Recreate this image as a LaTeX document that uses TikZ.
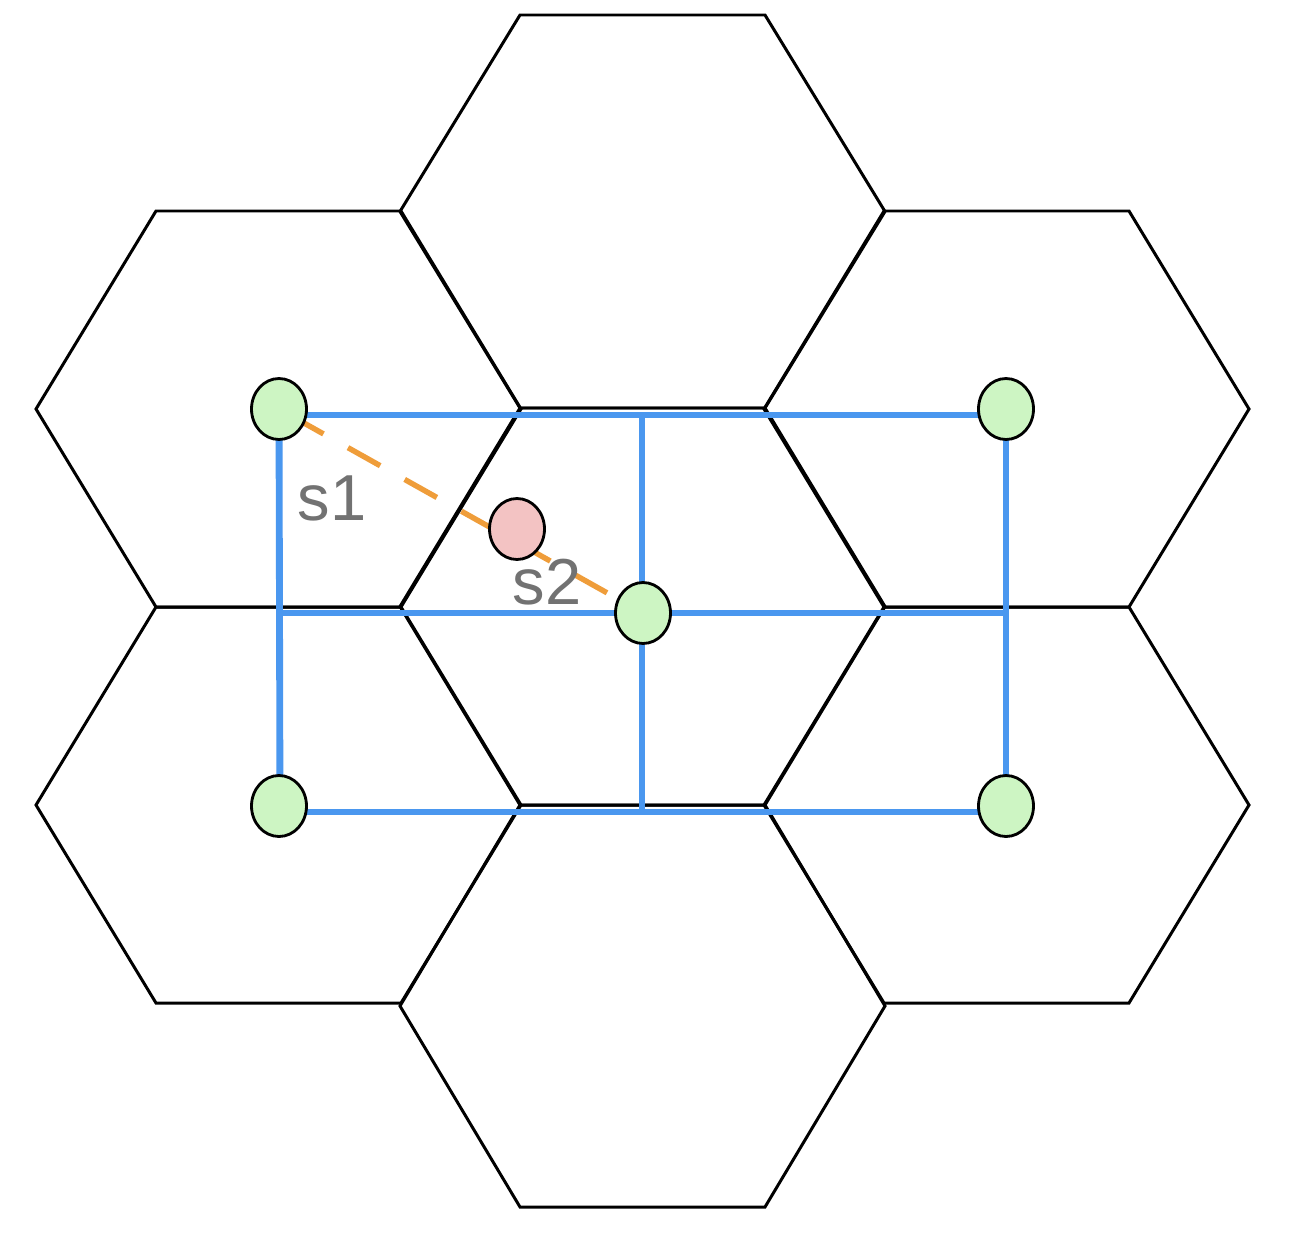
\documentclass[tikz,border=0pt]{standalone}
\usepackage{fontspec}
\setmainfont{Liberation Sans}
\usetikzlibrary{shapes.geometric}
\definecolor{hexblue}{HTML}{4A97EF}
\definecolor{dotgreen}{HTML}{CDF5C3}
\definecolor{dotpink}{HTML}{F3C3C3}
\definecolor{dashorange}{HTML}{EF9D3A}
\definecolor{labelgray}{HTML}{727272}
\pgfdeclarelayer{hexes}
\pgfdeclarelayer{lines}
\pgfsetlayers{hexes,lines,main}
\tikzset{
  hexline/.style={draw=black, line width=1.7pt, line join=miter},
  pics/hexa/.style={code={
    \draw[hexline] (-242.5,0) -- (-122.5,-#1) -- (122.5,-#1) -- (242.5,0)
      -- (122.5,#1) -- (-122.5,#1) -- cycle;}},
  blueline/.style={draw=hexblue, line width=3.9pt},
  dashline/.style={draw=dashorange, line width=3.1pt,
    dash pattern=on 21pt off 16pt, dash phase=29pt},
  dot/.style={ellipse, draw=black, line width=1.6pt, inner sep=0pt,
    minimum width=1.1cm, minimum height=1.22cm},
  gdot/.style={dot, fill=dotgreen},
  pdot/.style={dot, fill=dotpink},
  lab/.style={text=labelgray, inner sep=0pt, font=\fontsize{37}{40}\selectfont}
}
\begin{document}
\begin{tikzpicture}[x=0.02cm, y=-0.02cm]
\useasboundingbox (0,0) rectangle (1298,1254);
\begin{pgfonlayer}{hexes}
  \pic at (642.5,211.5) {hexa=196.5};
  \pic at (642.5,606.5) {hexa=198.5};
  \pic at (642.5,1006) {hexa=201};
  \pic at (278.5,409) {hexa=198};
  \pic at (1006.5,409) {hexa=198};
  \pic at (278.5,805) {hexa=198};
  \pic at (1006.5,805) {hexa=198};
\end{pgfonlayer}

\node[gdot] (g1) at (279,409) {};
\node[gdot] (g2) at (1006,409) {};
\node[gdot] (g3) at (279,806) {};
\node[gdot] (g4) at (1006,806) {};
\node[gdot] (g5) at (643,613) {};
\node[pdot] (p) at (517,529) {};

\coordinate (r1) at (280,415);
\coordinate (r2) at (1006,415);
\coordinate (r3) at (280,812);
\coordinate (r4) at (1006,812);
\coordinate (m1) at (280,613);
\coordinate (m2) at (1006,613);
\coordinate (m3) at (642,415);
\coordinate (m4) at (642,812);

\begin{pgfonlayer}{lines}
  \draw[blueline] (r1) -- (r2);
  \draw[blueline] (r3) -- (r4);
  \draw[blueline] (g1.center) -- (r3);
  \draw[blueline] (g2.center) -- (r4);
  \draw[blueline] (m1) -- (m2);
  \draw[blueline] (m3) -- (m4);
  \draw[dashline] (g1.center) -- (g5.center);
\end{pgfonlayer}

\node[lab] (s1) at (332,498) {s1};
\node[lab] (s2) at (547,582) {s2};
\end{tikzpicture}
\end{document}
